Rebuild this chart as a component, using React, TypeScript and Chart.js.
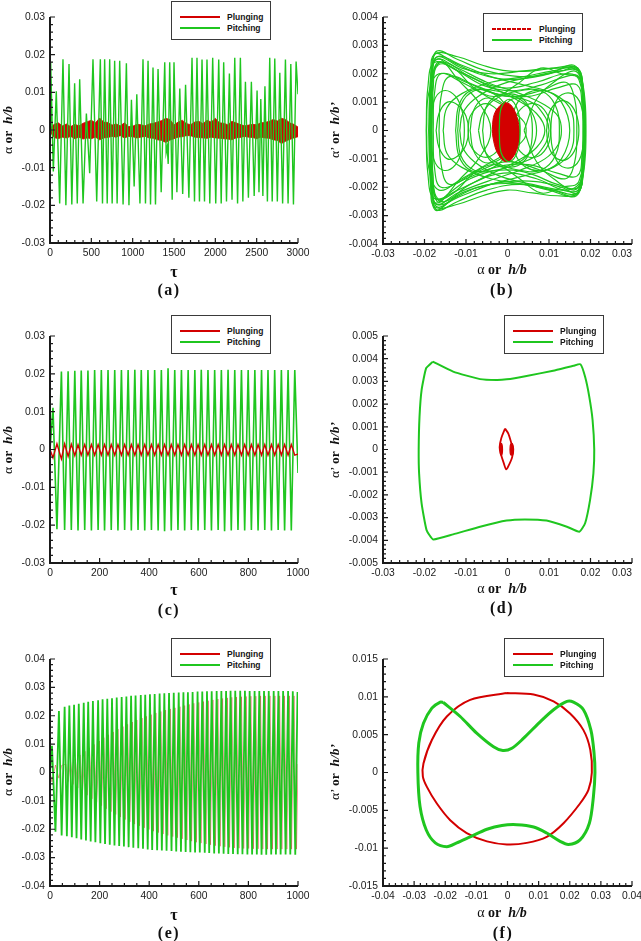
import React, { useEffect, useRef } from "react";
import { Chart, registerables } from "chart.js";

Chart.register(...registerables);

const RED = "#d30000";
const RED_FAINT = "rgba(211, 0, 0, 0.5)";
const GREEN = "#1fc61f";
const TICK_FONT = '"Liberation Sans", Arial, sans-serif';
const SERIF = '"Liberation Serif", "Times New Roman", serif';

// ---------------- tick values / labels ----------------
const tauTicks3000 = [0, 500, 1000, 1500, 2000, 2500, 3000];
const tauLabels3000 = ["0", "500", "1000", "1500", "2000", "2500", "3000"];
const tauTicks1000 = [0, 200, 400, 600, 800, 1000];
const tauLabels1000 = ["0", "200", "400", "600", "800", "1000"];
const amp3Ticks = [-0.03, -0.02, -0.01, 0, 0.01, 0.02, 0.03];
const amp3Labels = ["-0.03", "-0.02", "-0.01", "0", "0.01", "0.02", "0.03"];
// last label of the phase-plane x axes sits left of its tick in the original
const phase3Labels = ["-0.03", "-0.02", "-0.01", "0", "0.01", "0.02", "0.03       "];
const amp4Ticks = [-0.04, -0.03, -0.02, -0.01, 0, 0.01, 0.02, 0.03, 0.04];
const amp4Labels = ["-0.04", "-0.03", "-0.02", "-0.01", "0", "0.01", "0.02", "0.03", "0.04"];
const rate4Ticks = [-0.004, -0.003, -0.002, -0.001, 0, 0.001, 0.002, 0.003, 0.004];
const rate4Labels = ["-0.004", "-0.003", "-0.002", "-0.001", "0", "0.001", "0.002", "0.003", "0.004"];
const rate5Ticks = [-0.005, -0.004, -0.003, -0.002, -0.001, 0, 0.001, 0.002, 0.003, 0.004, 0.005];
const rate5Labels = ["-0.005", "-0.004", "-0.003", "-0.002", "-0.001", "0", "0.001", "0.002", "0.003", "0.004", "0.005"];
const rate15Ticks = [-0.015, -0.01, -0.005, 0, 0.005, 0.01, 0.015];
const rate15Labels = ["-0.015", "-0.01", "-0.005", "0", "0.005", "0.01", "0.015"];

// ---------------- (a) time history, tau 0..3000 ----------------
const aPitching = [
  [0, 0], [8, 0.018], [40, -0.011], [76, 0.0103], [117, -0.0195], [157, 0.0188], [192, -0.02], [230, 0.0175],
  [264, -0.0198], [298, 0.0124], [330, -0.0195], [359, 0.0135], [400, -0.0195], [440, 0.0044], [480, -0.0115],
  [520, 0.0188], [565, -0.019], [609, 0.0188], [635, -0.0195], [661, 0.0188], [692, -0.0195], [722, 0.0188],
  [752, -0.0195], [782, 0.0184], [812, -0.0195], [843, 0.0184], [884, -0.0198], [924, 0.0177], [955, -0.02],
  [985, 0.008], [1018, -0.015], [1050, 0.0095], [1088, -0.0195], [1125, 0.0188], [1155, -0.0195], [1186, 0.0184],
  [1216, -0.0198], [1246, 0.0166], [1276, -0.0198], [1307, 0.0162], [1345, -0.0165], [1388, 0.018],
  [1405, -0.006], [1418, -0.0045], [1430, -0.009], [1448, 0.018], [1478, -0.0185], [1500, 0.018],
  [1535, -0.0165], [1570, 0.011], [1605, -0.017], [1640, 0.012], [1680, -0.018], [1718, 0.0192],
  [1748, -0.019], [1778, 0.0192], [1808, -0.019], [1839, 0.0187], [1869, -0.019], [1899, 0.0187],
  [1933, -0.0195], [1968, 0.0192], [2005, -0.0195], [2041, 0.0187], [2071, -0.0195], [2101, 0.018],
  [2135, -0.019], [2170, 0.015], [2202, -0.0185], [2235, 0.0192], [2269, -0.0195], [2303, 0.0192],
  [2333, -0.019], [2364, 0.0128], [2400, -0.018], [2436, 0.0128], [2470, -0.0175], [2505, 0.0105],
  [2528, -0.0165], [2550, 0.0082], [2575, -0.0175], [2600, 0.0116], [2630, -0.019], [2658, 0.0192],
  [2688, -0.019], [2719, 0.019], [2750, -0.019], [2780, 0.0152], [2814, -0.0195], [2848, 0.0187],
  [2880, -0.0195], [2913, 0.0175], [2945, -0.0198], [2977, 0.0182], [3000, 0.0095],
];
const aPlungingUpper = [
  [0, 0.0005], [50, 0.0015], [100, 0.0019], [150, 0.0011], [200, 0.0016], [250, 0.0009], [300, 0.0015],
  [350, 0.0011], [400, 0.0018], [450, 0.0022], [500, 0.0026], [550, 0.0019], [600, 0.0032], [650, 0.0021],
  [700, 0.002], [750, 0.0013], [800, 0.0016], [850, 0.0011], [900, 0.0019], [950, 0.0009], [1000, 0.001],
  [1050, 0.0015], [1100, 0.0014], [1150, 0.0011], [1200, 0.0016], [1250, 0.0018], [1300, 0.0021],
  [1350, 0.0025], [1400, 0.0031], [1450, 0.0028], [1500, 0.0014], [1550, 0.0021], [1600, 0.0026],
  [1650, 0.0017], [1700, 0.0014], [1750, 0.0021], [1800, 0.0023], [1850, 0.0017], [1900, 0.0026],
  [1950, 0.0021], [2000, 0.0031], [2050, 0.0019], [2100, 0.0018], [2150, 0.0014], [2200, 0.0023],
  [2250, 0.0019], [2300, 0.0015], [2350, 0.0011], [2400, 0.0013], [2450, 0.0015], [2500, 0.0014],
  [2550, 0.0019], [2600, 0.002], [2650, 0.0023], [2700, 0.0028], [2750, 0.0024], [2800, 0.0031],
  [2850, 0.0028], [2900, 0.0019], [2950, 0.0015], [3000, 0.0008],
];
const aPlungingLower = [
  [0, -0.0005], [50, -0.002], [100, -0.0023], [150, -0.0019], [200, -0.0021], [250, -0.0017], [300, -0.0023],
  [350, -0.0019], [400, -0.0024], [450, -0.0021], [500, -0.0023], [550, -0.0019], [600, -0.0026], [650, -0.0021],
  [700, -0.002], [750, -0.0017], [800, -0.0019], [850, -0.0015], [900, -0.0021], [950, -0.0017], [1000, -0.0018],
  [1050, -0.0021], [1100, -0.0019], [1150, -0.0017], [1200, -0.0021], [1250, -0.0022], [1300, -0.0026],
  [1350, -0.0028], [1400, -0.0033], [1450, -0.0027], [1500, -0.0023], [1550, -0.0019], [1600, -0.0018],
  [1650, -0.0015], [1700, -0.0015], [1750, -0.0019], [1800, -0.002], [1850, -0.0021], [1900, -0.0022],
  [1950, -0.0019], [2000, -0.0021], [2050, -0.0022], [2100, -0.0023], [2150, -0.0024], [2200, -0.0026],
  [2250, -0.0021], [2300, -0.002], [2350, -0.0017], [2400, -0.0019], [2450, -0.002], [2500, -0.0023],
  [2550, -0.0019], [2600, -0.0021], [2650, -0.0022], [2700, -0.0026], [2750, -0.0028], [2800, -0.0036],
  [2850, -0.003], [2900, -0.0025], [2950, -0.0021], [3000, -0.0018],
];

// ---------------- (b) phase plane ----------------
const bPitchingLoops = [
  [[-0.0186, 0], [-0.0183, 0.0017], [-0.0174, 0.0027], [-0.013, 0.0024], [-0.007, 0.002], [0, 0.0018], [0.007, 0.0019], [0.013, 0.0021], [0.017, 0.0022], [0.0183, 0.0012], [0.0186, 0], [0.0183, -0.0012], [0.017, -0.0022], [0.013, -0.002], [0.007, -0.0018], [0, -0.0018], [-0.007, -0.002], [-0.013, -0.0024], [-0.0174, -0.0028], [-0.0183, -0.0017], [-0.0186, 0]],
  [[-0.0182, 0], [-0.0179, 0.0015], [-0.0168, 0.0024], [-0.012, 0.0021], [-0.006, 0.0016], [0.001, 0.0014], [0.008, 0.0016], [0.014, 0.0019], [0.0172, 0.0019], [0.0181, 0.001], [0.0183, 0], [0.018, -0.001], [0.017, -0.002], [0.012, -0.0019], [0.005, -0.0015], [-0.002, -0.0014], [-0.009, -0.0017], [-0.014, -0.0022], [-0.017, -0.0025], [-0.018, -0.0015], [-0.0182, 0]],
  [[-0.0188, 0], [-0.0185, 0.0016], [-0.0172, 0.0025], [-0.012, 0.0022], [-0.005, 0.0017], [0.003, 0.0013], [0.009, 0.0009], [0.0122, 0.0005], [0.013, 0], [0.0122, -0.0005], [0.009, -0.001], [0.003, -0.0014], [-0.005, -0.0018], [-0.012, -0.0022], [-0.0172, -0.0026], [-0.0185, -0.0016], [-0.0188, 0]],
  [[-0.0195, 0], [-0.019, 0.0013], [-0.0165, 0.002], [-0.011, 0.0017], [-0.005, 0.0012], [0.001, 0.0007], [0.004, 0.0003], [0.0045, 0], [0.004, -0.0003], [0.001, -0.0007], [-0.005, -0.0012], [-0.011, -0.0017], [-0.0165, -0.0021], [-0.019, -0.0013], [-0.0195, 0]],
  [[-0.0115, 0], [-0.0108, 0.0006], [-0.008, 0.0011], [-0.002, 0.0016], [0.006, 0.0019], [0.013, 0.0021], [0.017, 0.0021], [0.0184, 0.0011], [0.0188, 0], [0.0184, -0.0011], [0.017, -0.0021], [0.013, -0.0021], [0.006, -0.0019], [-0.002, -0.0016], [-0.008, -0.0011], [-0.0108, -0.0006], [-0.0115, 0]],
  [[-0.0196, 0], [-0.0192, 0.0015], [-0.0176, 0.0024], [-0.012, 0.0021], [-0.005, 0.0016], [0.002, 0.0011], [0.007, 0.0006], [0.009, 0], [0.007, -0.0006], [0.002, -0.0011], [-0.005, -0.0016], [-0.012, -0.0021], [-0.0176, -0.0024], [-0.0192, -0.0015], [-0.0196, 0]],
  [[-0.0172, 0], [-0.0165, 0.0006], [-0.0145, 0.001], [-0.012, 0.0009], [-0.01, 0.0005], [-0.0094, 0], [-0.01, -0.0005], [-0.012, -0.0009], [-0.0145, -0.001], [-0.0165, -0.0006], [-0.0172, 0]],
  [[0.0094, 0], [0.01, 0.0006], [0.012, 0.001], [0.0145, 0.001], [0.0165, 0.0006], [0.0172, 0], [0.0165, -0.0006], [0.0145, -0.001], [0.012, -0.001], [0.01, -0.0006], [0.0094, 0]],
  [[-0.006, 0], [-0.0052, 0.0008], [-0.003, 0.0012], [0, 0.0013], [0.003, 0.0012], [0.0052, 0.0008], [0.006, 0], [0.0052, -0.0008], [0.003, -0.0012], [0, -0.0013], [-0.003, -0.0012], [-0.0052, -0.0008], [-0.006, 0]],
  [[-0.0165, 0], [-0.016, 0.0012], [-0.014, 0.0019], [-0.008, 0.0016], [0, 0.0012], [0.008, 0.0014], [0.014, 0.0017], [0.0162, 0.0011], [0.0167, 0], [0.0162, -0.0011], [0.014, -0.0017], [0.008, -0.0014], [0, -0.0011], [-0.008, -0.0015], [-0.014, -0.0019], [-0.016, -0.0012], [-0.0165, 0]],
  [[-0.0185, 0], [-0.0181, 0.0019], [-0.0168, 0.0026], [-0.011, 0.0022], [-0.004, 0.002], [0.004, 0.0021], [0.011, 0.0022], [0.0165, 0.0022], [0.0182, 0.0013], [0.0186, 0], [0.0182, -0.0013], [0.0166, -0.0023], [0.011, -0.0021], [0.004, -0.0019], [-0.004, -0.0019], [-0.011, -0.0022], [-0.0168, -0.0027], [-0.0181, -0.0019], [-0.0185, 0]],
  [[-0.009, 0], [-0.0082, 0.0007], [-0.006, 0.0011], [-0.003, 0.0011], [0, 0.0008], [0.0025, 0.0004], [0.003, 0], [0.0025, -0.0004], [0, -0.0008], [-0.003, -0.0011], [-0.006, -0.0011], [-0.0082, -0.0007], [-0.009, 0]],
  [[-0.002, 0], [-0.0012, 0.0007], [0.001, 0.0011], [0.004, 0.0011], [0.0075, 0.0008], [0.01, 0], [0.0075, -0.0008], [0.004, -0.0011], [0.001, -0.0011], [-0.0012, -0.0007], [-0.002, 0]],
  [[-0.0125, 0], [-0.0117, 0.0009], [-0.009, 0.0014], [-0.005, 0.0014], [-0.001, 0.001], [0.002, 0], [-0.001, -0.001], [-0.005, -0.0014], [-0.009, -0.0014], [-0.0117, -0.0009], [-0.0125, 0]],
  [[0.001, 0], [0.0018, 0.0008], [0.0045, 0.0013], [0.009, 0.0014], [0.013, 0.001], [0.015, 0], [0.013, -0.001], [0.009, -0.0014], [0.0045, -0.0013], [0.0018, -0.0008], [0.001, 0]],
  [[-0.0187, 0], [-0.0184, 0.0012], [-0.0176, 0.0022], [-0.015, 0.0024], [-0.009, 0.0019], [-0.001, 0.0015], [0.007, 0.0017], [0.014, 0.002], [0.0175, 0.0018], [0.0185, 0.0008], [0.0186, 0], [0.0185, -0.0008], [0.0176, -0.0018], [0.014, -0.0021], [0.007, -0.0017], [-0.001, -0.0015], [-0.009, -0.0019], [-0.015, -0.0025], [-0.0176, -0.0023], [-0.0184, -0.0012], [-0.0187, 0]],
  [[-0.0184, 0], [-0.0181, 0.0021], [-0.017, 0.0028], [-0.012, 0.0025], [-0.005, 0.0021], [0.003, 0.0019], [0.01, 0.002], [0.016, 0.0023], [0.0178, 0.0016], [0.0183, 0], [0.0178, -0.0016], [0.016, -0.0023], [0.01, -0.0021], [0.003, -0.0019], [-0.005, -0.0021], [-0.012, -0.0025], [-0.017, -0.0028], [-0.0181, -0.0021], [-0.0184, 0]],
  [[-0.0179, 0], [-0.0176, 0.0013], [-0.016, 0.002], [-0.01, 0.0017], [-0.003, 0.0013], [0.005, 0.0012], [0.012, 0.0015], [0.0168, 0.0016], [0.018, 0.0008], [0.0182, 0], [0.018, -0.0008], [0.0168, -0.0016], [0.012, -0.0015], [0.005, -0.0012], [-0.003, -0.0013], [-0.01, -0.0017], [-0.016, -0.002], [-0.0176, -0.0013], [-0.0179, 0]],
  [[-0.0186, 0], [-0.0183, 0.0018], [-0.017, 0.0026], [-0.011, 0.0023], [-0.004, 0.0019], [0.004, 0.0016], [0.011, 0.0013], [0.015, 0.0008], [0.016, 0], [0.015, -0.0008], [0.011, -0.0013], [0.004, -0.0016], [-0.004, -0.0019], [-0.011, -0.0023], [-0.017, -0.0026], [-0.0183, -0.0018], [-0.0186, 0]],
  [[-0.0155, 0], [-0.0146, 0.0008], [-0.011, 0.0013], [-0.004, 0.0017], [0.004, 0.0019], [0.011, 0.0021], [0.0168, 0.0022], [0.0183, 0.0013], [0.0186, 0], [0.0183, -0.0013], [0.0168, -0.0022], [0.011, -0.0021], [0.004, -0.0019], [-0.004, -0.0017], [-0.011, -0.0013], [-0.0146, -0.0008], [-0.0155, 0]],
  [[-0.0183, 0], [-0.018, 0.0016], [-0.0168, 0.0023], [-0.013, 0.0022], [-0.008, 0.0015], [-0.003, 0.0012], [0.002, 0.0016], [0.008, 0.0022], [0.013, 0.002], [0.0172, 0.0018], [0.0184, 0], [0.0172, -0.0018], [0.013, -0.002], [0.008, -0.0022], [0.002, -0.0016], [-0.003, -0.0012], [-0.008, -0.0015], [-0.013, -0.0022], [-0.0168, -0.0024], [-0.018, -0.0016], [-0.0183, 0]],
  [[-0.0188, 0], [-0.0185, 0.002], [-0.0175, 0.0027], [-0.012, 0.0026], [-0.006, 0.0023], [0, 0.0021], [0.006, 0.0021], [0.012, 0.0022], [0.017, 0.0021], [0.0183, 0.0012], [0.0185, 0], [0.0183, -0.0012], [0.017, -0.0022], [0.012, -0.0023], [0.006, -0.0022], [0, -0.0021], [-0.006, -0.0023], [-0.012, -0.0026], [-0.0175, -0.0027], [-0.0185, -0.002], [-0.0188, 0]],
  [[-0.0185, 0], [-0.0178, 0.001], [-0.0155, 0.0014], [-0.0125, 0.0012], [-0.0108, 0.0006], [-0.0104, 0], [-0.0108, -0.0006], [-0.0125, -0.0012], [-0.0155, -0.0014], [-0.0178, -0.001], [-0.0185, 0]],
  [[0.0104, 0], [0.0108, 0.0006], [0.0125, 0.0012], [0.0155, 0.0013], [0.0177, 0.0009], [0.0184, 0], [0.0177, -0.0009], [0.0155, -0.0013], [0.0125, -0.0012], [0.0108, -0.0006], [0.0104, 0]],
  [[-0.012, 0], [-0.0112, 0.0009], [-0.008, 0.0014], [-0.003, 0.0014], [0.003, 0.0011], [0.006, 0.0006], [0.007, 0], [0.006, -0.0006], [0.003, -0.0011], [-0.003, -0.0014], [-0.008, -0.0014], [-0.0112, -0.0009], [-0.012, 0]],
  [[-0.007, 0], [-0.006, 0.0006], [-0.003, 0.0011], [0.003, 0.0014], [0.008, 0.0014], [0.0115, 0.0009], [0.0125, 0], [0.0115, -0.0009], [0.008, -0.0014], [0.003, -0.0014], [-0.003, -0.0011], [-0.006, -0.0006], [-0.007, 0]],
  [[-0.0095, 0], [-0.009, 0.0005], [-0.0065, 0.0009], [-0.004, 0.0009], [-0.0015, 0.0005], [-0.001, 0], [-0.0015, -0.0005], [-0.004, -0.0009], [-0.0065, -0.0009], [-0.009, -0.0005], [-0.0095, 0]],
  [[0.0015, 0], [0.002, 0.0005], [0.0045, 0.0009], [0.0075, 0.0009], [0.0098, 0.0005], [0.0104, 0], [0.0098, -0.0005], [0.0075, -0.0009], [0.0045, -0.0009], [0.002, -0.0005], [0.0015, 0]],
  [[-0.019, 0], [-0.0187, 0.0014], [-0.0178, 0.0024], [-0.016, 0.0025], [-0.012, 0.0018], [-0.007, 0.001], [-0.004, 0], [-0.007, -0.001], [-0.012, -0.0018], [-0.016, -0.0025], [-0.0178, -0.0025], [-0.0187, -0.0014], [-0.019, 0]],
  [[0.004, 0], [0.007, 0.0011], [0.012, 0.0018], [0.016, 0.0021], [0.0178, 0.0018], [0.0187, 0.001], [0.0189, 0], [0.0187, -0.001], [0.0178, -0.0018], [0.016, -0.0021], [0.012, -0.0018], [0.007, -0.0011], [0.004, 0]],
];
const bPlungingBlob = [
  [-0.0008, 0.001], [0.0008, 0.0009], [0.0022, 0.0005], [0.0029, -0.0001], [0.0024, -0.0006], [0.001, -0.001],
  [-0.0004, -0.0011], [-0.002, -0.0009], [-0.0033, -0.0004], [-0.0036, 0.0002], [-0.0028, 0.0007], [-0.0008, 0.001],
];
const bPitchingCentre = [
  [-0.002, 0], [-0.0015, 0.0008], [0.0005, 0.0011], [0.0025, 0.0007], [0.003, 0], [0.0025, -0.0007],
  [0.0005, -0.0011], [-0.0015, -0.0008], [-0.002, 0],
];

// ---------------- (c) time history, tau 0..1000 ----------------
const cPitching = [
  [0, 0], [12, 0.011], [28, -0.0211], [46, 0.0206], [59, -0.0213], [73, 0.0207], [86, -0.0213], [100, 0.0208],
  [113, -0.0214], [126, 0.0209], [140, -0.0213], [153, 0.0209], [167, -0.0214], [180, 0.021], [194, -0.0213],
  [207, 0.021], [220, -0.0214], [234, 0.021], [247, -0.0213], [261, 0.021], [274, -0.0214], [288, 0.021],
  [301, -0.0213], [315, 0.021], [328, -0.0214], [342, 0.0211], [355, -0.0213], [368, 0.021], [382, -0.0214],
  [395, 0.021], [409, -0.0213], [422, 0.021], [436, -0.0214], [449, 0.021], [462, -0.0216], [476, 0.0215],
  [489, -0.0214], [503, 0.021], [516, -0.0213], [530, 0.021], [543, -0.0214], [557, 0.021], [570, -0.0213],
  [584, 0.021], [597, -0.0214], [610, 0.0211], [624, -0.0213], [637, 0.021], [651, -0.0214], [664, 0.021],
  [678, -0.0213], [691, 0.021], [704, -0.0216], [718, 0.0211], [731, -0.0214], [745, 0.021], [758, -0.0213],
  [772, 0.021], [785, -0.0214], [799, 0.021], [812, -0.0213], [826, 0.021], [839, -0.0214], [853, 0.021],
  [866, -0.0213], [879, 0.021], [893, -0.0214], [906, 0.021], [920, -0.0213], [933, 0.021], [946, -0.0214],
  [960, 0.021], [973, -0.0214], [987, 0.021], [1000, -0.0062],
];
const cPlunging = [
  [0, 0], [12, -0.0022], [28, 0.0015], [46, -0.0025], [59, 0.0015], [73, -0.0018], [86, 0.0014], [100, -0.0016],
  [113, 0.0013], [126, -0.0015], [140, 0.0013], [153, -0.0015], [167, 0.0013], [180, -0.0015], [194, 0.0013],
  [207, -0.0015], [220, 0.0013], [234, -0.0015], [247, 0.0013], [261, -0.0015], [274, 0.0013], [288, -0.0015],
  [301, 0.0013], [315, -0.0015], [328, 0.0013], [342, -0.0015], [355, 0.0013], [368, -0.0015], [382, 0.0013],
  [395, -0.0015], [409, 0.0013], [422, -0.0015], [436, 0.0013], [449, -0.0015], [462, 0.0013], [476, -0.0015],
  [489, 0.0013], [503, -0.0015], [516, 0.0013], [530, -0.0015], [543, 0.0013], [557, -0.0015], [570, 0.0013],
  [584, -0.0015], [597, 0.0013], [610, -0.0015], [624, 0.0013], [637, -0.0015], [651, 0.0013], [664, -0.0015],
  [678, 0.0013], [691, -0.0015], [704, 0.0013], [718, -0.0015], [731, 0.0013], [745, -0.0015], [758, 0.0013],
  [772, -0.0015], [785, 0.0013], [799, -0.0015], [812, 0.0013], [826, -0.0015], [839, 0.0013], [853, -0.0015],
  [866, 0.0013], [879, -0.0015], [893, 0.0013], [906, -0.0015], [920, 0.0013], [933, -0.0015], [946, 0.0013],
  [960, -0.0015], [973, 0.0013], [987, -0.0015], [1000, -0.0012],
];

// ---------------- (d) phase plane ----------------
const dPitching = [
  [-0.018, 0.00387], [-0.0131, 0.00343], [-0.0066, 0.0031], [-0.0026, 0.00306], [-0.0002, 0.00309], [0.0046, 0.00324],
  [0.011, 0.00347], [0.0159, 0.00369], [0.0176, 0.00375], [0.0187, 0.0032], [0.0197, 0.00233], [0.0205, 0.0013],
  [0.0209, 0], [0.0207, -0.00105], [0.0199, -0.00222], [0.0187, -0.00325], [0.0173, -0.00362], [0.0143, -0.0034],
  [0.0094, -0.00313], [0.0042, -0.00308], [-0.0002, -0.00313], [-0.0066, -0.0034], [-0.0131, -0.00374],
  [-0.0179, -0.00396], [-0.0195, -0.00355], [-0.0207, -0.00237], [-0.0213, -0.00105], [-0.0214, 0],
  [-0.0212, 0.00145], [-0.0207, 0.00262], [-0.0196, 0.00358], [-0.018, 0.00387],
];
const dPlunging = [
  [-0.0006, 0.00092], [0.0002, 0.0007], [0.0009, 0.0003], [0.0014, 0.00002], [0.0011, -0.00035], [0.0003, -0.0007],
  [-0.0003, -0.00088], [-0.0009, -0.0006], [-0.0016, -0.0002], [-0.0019, 0.0001], [-0.0015, 0.0005], [-0.0006, 0.00092],
];
const dPlungingLeftOval = [
  [-0.0018, 0], [-0.0017, 0.0002], [-0.0015, 0.00027], [-0.0013, 0.0002], [-0.0012, 0], [-0.0013, -0.0002],
  [-0.0015, -0.00025], [-0.0017, -0.0002], [-0.0018, 0],
];
const dPlungingRightOval = [
  [0.0006, 0], [0.0007, 0.0002], [0.001, 0.00027], [0.0013, 0.0002], [0.0014, 0], [0.0013, -0.0002],
  [0.001, -0.00025], [0.0007, -0.0002], [0.0006, 0],
];

// ---------------- (e) time history, tau 0..1000 ----------------
const ePitching = [
  [0, 0], [8, 0.0094], [22, -0.0209], [36, 0.0217], [47, -0.0222], [59, 0.0232], [68, -0.0225], [78, 0.0236],
  [88, -0.0228], [97, 0.0239], [107, -0.0232], [116, 0.0242], [126, -0.0236], [136, 0.0246], [145, -0.024],
  [154, 0.0249], [164, -0.0243], [173, 0.0252], [183, -0.0246], [194, 0.0255], [203, -0.0249], [212, 0.0258],
  [222, -0.0252], [231, 0.026], [241, -0.0255], [250, 0.0262], [260, -0.0257], [269, 0.0264], [279, -0.0259],
  [289, 0.0266], [298, -0.0261], [308, 0.0268], [317, -0.0263], [327, 0.027], [336, -0.0265], [345, 0.0271],
  [356, -0.0267], [366, 0.0273], [375, -0.0269], [384, 0.0274], [394, -0.0271], [403, 0.0276], [412, -0.0273],
  [422, 0.0277], [432, -0.0274], [442, 0.0278], [451, -0.0275], [461, 0.0279], [470, -0.0276], [480, 0.028],
  [490, -0.0277], [499, 0.0281], [509, -0.0278], [519, 0.0282], [528, -0.0279], [538, 0.0283], [547, -0.028],
  [556, 0.0283], [566, -0.0281], [575, 0.0284], [585, -0.0282], [595, 0.0285], [604, -0.0282], [614, 0.0285],
  [624, -0.0283], [633, 0.0286], [642, -0.0284], [652, 0.0286], [662, -0.0285], [672, 0.0287], [681, -0.0285],
  [691, 0.0287], [700, -0.0286], [710, 0.0287], [719, -0.0287], [728, 0.0288], [738, -0.0287], [747, 0.0288],
  [757, -0.0288], [767, 0.0288], [776, -0.0288], [786, 0.0288], [796, -0.0289], [805, 0.0287], [815, -0.0289],
  [825, 0.0287], [834, -0.0289], [844, 0.0287], [853, -0.029], [863, 0.0287], [872, -0.029], [882, 0.0287],
  [892, -0.0289], [902, 0.0287], [911, -0.0289], [921, 0.0287], [930, -0.0289], [940, 0.0287], [950, -0.0289],
  [960, 0.0287], [969, -0.0289], [979, 0.0286], [989, -0.029], [998, 0.0284], [1000, 0.022],
];
// plunging lags the pitching motion by a few time units, so it shows faintly between the green strokes
const ePlunging = [
  [0, 0], [8, -0.0033], [22, 0.0026], [36, -0.002], [47, 0.0025], [64, 0.003], [73, -0.0032], [83, 0.0038],
  [93, -0.0042], [102, 0.0048], [112, -0.0055], [121, 0.0062], [131, -0.0068], [141, 0.0075], [150, -0.008],
  [159, 0.0087], [169, -0.0093], [178, 0.0099], [188, -0.0105], [199, 0.0111], [208, -0.0117], [217, 0.0123],
  [227, -0.0128], [236, 0.0133], [246, -0.0138], [255, 0.0143], [265, -0.0148], [274, 0.0153], [284, -0.0157],
  [294, 0.0162], [303, -0.0166], [313, 0.017], [322, -0.0174], [332, 0.0178], [341, -0.0182], [350, 0.0185],
  [361, -0.0188], [371, 0.0192], [380, -0.0195], [389, 0.0198], [399, -0.0201], [408, 0.0204], [417, -0.0207],
  [427, 0.021], [437, -0.0212], [447, 0.0215], [456, -0.0217], [466, 0.022], [475, -0.0222], [485, 0.0224],
  [495, -0.0226], [504, 0.0228], [514, -0.023], [524, 0.0232], [533, -0.0234], [543, 0.0236], [552, -0.0238],
  [561, 0.024], [571, -0.0242], [580, 0.0244], [590, -0.0246], [600, 0.0247], [609, -0.0249], [619, 0.025],
  [629, -0.0252], [638, 0.0253], [647, -0.0255], [657, 0.0256], [667, -0.0258], [677, 0.0259], [686, -0.026],
  [696, 0.0261], [705, -0.0262], [715, 0.0263], [724, -0.0264], [733, 0.0265], [743, -0.0266], [752, 0.0266],
  [762, -0.0267], [772, 0.0267], [781, -0.0268], [791, 0.0268], [801, -0.0268], [810, 0.0269], [820, -0.0269],
  [830, 0.0269], [839, -0.0269], [849, 0.027], [858, -0.027], [868, 0.027], [877, -0.027], [887, 0.027],
  [897, -0.027], [907, 0.027], [916, -0.027], [926, 0.027], [935, -0.027], [945, 0.027], [955, -0.027],
  [965, 0.027], [974, -0.027], [984, 0.027], [994, -0.027], [1000, 0.003],
];

// ---------------- (f) phase plane ----------------
const fPitching = [
  [-0.0206, 0.00925], [-0.0152, 0.0074], [-0.0099, 0.0052], [-0.0045, 0.0034], [-0.0015, 0.0029], [0.0014, 0.0032],
  [0.0051, 0.0045], [0.0105, 0.0067], [0.0148, 0.0083], [0.0191, 0.0094], [0.0212, 0.0093], [0.0244, 0.0083],
  [0.0268, 0.0056], [0.0278, 0.0026], [0.0281, 0], [0.0276, -0.0032], [0.0263, -0.0067], [0.0233, -0.0089],
  [0.0196, -0.0095], [0.0169, -0.0091], [0.0126, -0.008], [0.0084, -0.0072], [0.003, -0.0069], [-0.0018, -0.007],
  [-0.0066, -0.0075], [-0.012, -0.0085], [-0.0163, -0.0093], [-0.0195, -0.0098], [-0.0232, -0.0093],
  [-0.0261, -0.0076], [-0.0281, -0.0045], [-0.0288, 0], [-0.0285, 0.0039], [-0.027, 0.0065], [-0.0243, 0.0085],
  [-0.0216, 0.0093], [-0.0206, 0.00925],
];
const fPlunging = [
  [-0.0002, 0.0105], [-0.012, 0.0096], [-0.0195, 0.0074], [-0.0243, 0.0043], [-0.027, 0.0012], [-0.0272, -0.0005],
  [-0.0259, -0.0019], [-0.0227, -0.0041], [-0.0184, -0.0063], [-0.0131, -0.008], [-0.0066, -0.0091],
  [-0.0002, -0.0095], [0.0062, -0.0093], [0.0126, -0.0085], [0.018, -0.0067], [0.0233, -0.0041], [0.026, -0.0023],
  [0.0271, 0], [0.0266, 0.003], [0.0244, 0.0056], [0.0201, 0.0078], [0.0148, 0.0094], [0.0084, 0.0103],
  [-0.0002, 0.0105],
];

// ---------------- helpers ----------------
const toPts = (arr: number[][]) => arr.map(([x, y]) => ({ x, y }));

const ln = (data: number[][], color: string, width: number, extra: any = {}) => ({
  data: toPts(data),
  borderColor: color,
  backgroundColor: color,
  borderWidth: width,
  ...extra,
});

const axesPlugin = {
  id: "inAxes",
  afterDatasetsDraw(chart: any, _args: any, opts: any) {
    const { ctx, chartArea: a, scales } = chart;
    const xs = scales.x;
    const ys = scales.y;
    ctx.save();
    ctx.strokeStyle = "#1a1a1a";
    ctx.lineWidth = 1.2;
    const drawTicks = (scale: any, minor: number, horiz: boolean) => {
      const vals = scale.ticks.map((t: any) => t.value);
      ctx.beginPath();
      vals.forEach((v: number, i: number) => {
        const p = scale.getPixelForValue(v);
        if (horiz) {
          ctx.moveTo(p, a.bottom);
          ctx.lineTo(p, a.bottom - 5);
        } else {
          ctx.moveTo(a.left, p);
          ctx.lineTo(a.left + 5, p);
        }
        if (i < vals.length - 1) {
          for (let k = 1; k < minor; k++) {
            const q = scale.getPixelForValue(v + ((vals[i + 1] - v) * k) / minor);
            if (horiz) {
              ctx.moveTo(q, a.bottom);
              ctx.lineTo(q, a.bottom - 3);
            } else {
              ctx.moveTo(a.left, q);
              ctx.lineTo(a.left + 3, q);
            }
          }
        }
      });
      ctx.stroke();
    };
    drawTicks(xs, opts.xMinor, true);
    drawTicks(ys, opts.yMinor, false);
    ctx.lineWidth = 2;
    ctx.beginPath();
    ctx.moveTo(a.left, a.top);
    ctx.lineTo(a.left, a.bottom);
    ctx.lineTo(a.right, a.bottom);
    ctx.stroke();
    ctx.restore();
  },
};

function axisOpts(ticks: number[], labels: string[], axis: "x" | "y", size: number) {
  return {
    type: "linear",
    min: ticks[0],
    max: ticks[ticks.length - 1],
    position: axis === "x" ? "bottom" : "left",
    grid: { display: false, drawTicks: false },
    border: { display: false },
    ticks: {
      padding: axis === "x" ? 4 : 5,
      color: "#1a1a1a",
      font: { family: TICK_FONT, size: 10.3 },
      autoSkip: false,
      maxRotation: 0,
      minRotation: 0,
      callback: (_v: any, i: number) => labels[i],
    },
    afterBuildTicks: (sc: any) => {
      sc.ticks = ticks.map((v) => ({ value: v }));
    },
    afterFit: (sc: any) => {
      if (axis === "x") {
        sc.height = size;
        sc.paddingLeft = 0;
        sc.paddingRight = 0;
      } else {
        sc.width = size;
        sc.paddingTop = 0;
        sc.paddingBottom = 0;
      }
    },
  };
}

type Spec = {
  id: string;
  cx: number; cy: number; cw: number; ch: number;
  area: { l: number; t: number; r: number; b: number };
  xTicks: number[]; xLabels: string[]; yTicks: number[]; yLabels: string[];
  xMinor: number; yMinor: number;
  datasets: any[];
};

const panels: Spec[] = [
  {
    id: "a", cx: 0, cy: 0, cw: 320, ch: 300, area: { l: 50, t: 17, r: 298, b: 243 },
    xTicks: tauTicks3000, xLabels: tauLabels3000, yTicks: amp3Ticks, yLabels: amp3Labels, xMinor: 5, yMinor: 5,
    datasets: [
      ln(aPlungingUpper, RED, 0.8, { fill: "+1" }),
      ln(aPlungingLower, RED, 0.8),
      ln(aPitching, GREEN, 1.4),
    ],
  },
  {
    id: "b", cx: 320, cy: 0, cw: 321, ch: 300, area: { l: 383, t: 17, r: 632, b: 244 },
    xTicks: amp3Ticks, xLabels: phase3Labels, yTicks: rate4Ticks, yLabels: rate4Labels, xMinor: 5, yMinor: 5,
    datasets: [
      ...bPitchingLoops.map((lp) => ln(lp, GREEN, 1.2, { tension: 0.4 })),
      ln(bPlungingBlob, RED, 1, { tension: 0.4, fill: "shape" }),
      ln(bPitchingCentre, GREEN, 1.2, { tension: 0.4 }),
    ],
  },
  {
    id: "c", cx: 0, cy: 300, cw: 320, ch: 310, area: { l: 50, t: 336, r: 298, b: 563 },
    xTicks: tauTicks1000, xLabels: tauLabels1000, yTicks: amp3Ticks, yLabels: amp3Labels, xMinor: 4, yMinor: 5,
    datasets: [ln(cPitching, GREEN, 1.6), ln(cPlunging, RED, 1.4)],
  },
  {
    id: "d", cx: 320, cy: 300, cw: 321, ch: 310, area: { l: 383, t: 336, r: 632, b: 563 },
    xTicks: amp3Ticks, xLabels: phase3Labels, yTicks: rate5Ticks, yLabels: rate5Labels, xMinor: 5, yMinor: 5,
    datasets: [
      ln(dPitching, GREEN, 2, { tension: 0.15 }),
      ln(dPlunging, RED, 1.8, { tension: 0.3 }),
      ln(dPlungingLeftOval, RED, 1.2, { tension: 0.3, fill: "shape" }),
      ln(dPlungingRightOval, RED, 1.2, { tension: 0.3, fill: "shape" }),
    ],
  },
  {
    id: "e", cx: 0, cy: 610, cw: 320, ch: 331, area: { l: 50, t: 659, r: 298, b: 886 },
    xTicks: tauTicks1000, xLabels: tauLabels1000, yTicks: amp4Ticks, yLabels: amp4Labels, xMinor: 4, yMinor: 5,
    datasets: [ln(ePlunging, RED_FAINT, 0.8), ln(ePitching, GREEN, 1.8)],
  },
  {
    id: "f", cx: 320, cy: 610, cw: 321, ch: 331, area: { l: 383, t: 659, r: 632, b: 886 },
    xTicks: amp4Ticks, xLabels: amp4Labels, yTicks: rate15Ticks, yLabels: rate15Labels, xMinor: 5, yMinor: 5,
    datasets: [ln(fPlunging, RED, 2, { tension: 0.3 }), ln(fPitching, GREEN, 3, { tension: 0.3 })],
  },
];

function buildConfig(s: Spec): any {
  const n = s.datasets.length;
  return {
    type: "scatter",
    data: {
      datasets: s.datasets.map((d, i) => ({
        pointRadius: 0,
        pointHoverRadius: 0,
        showLine: true,
        tension: 0,
        fill: false,
        ...d,
        order: n - i,
      })),
    },
    options: {
      animation: false,
      responsive: false,
      maintainAspectRatio: false,
      devicePixelRatio: 1,
      events: [],
      layout: {
        padding: { left: 0, right: s.cx + s.cw - s.area.r, top: s.area.t - s.cy, bottom: 0 },
      },
      plugins: {
        legend: { display: false },
        tooltip: { enabled: false },
        inAxes: { xMinor: s.xMinor, yMinor: s.yMinor },
      },
      scales: {
        x: axisOpts(s.xTicks, s.xLabels, "x", s.cy + s.ch - s.area.b),
        y: axisOpts(s.yTicks, s.yLabels, "y", s.area.l - s.cx),
      },
    },
    plugins: [axesPlugin],
  };
}

function ChartPanel({ spec }: { spec: Spec }) {
  const ref = useRef<HTMLCanvasElement>(null);
  useEffect(() => {
    const chart = new Chart(ref.current as HTMLCanvasElement, buildConfig(spec));
    return () => chart.destroy();
  }, [spec]);
  return (
    <canvas
      ref={ref}
      width={spec.cw}
      height={spec.ch}
      style={{ position: "absolute", left: spec.cx, top: spec.cy, width: spec.cw, height: spec.ch }}
    />
  );
}

function LegendBox({ x, y, dashed }: { x: number; y: number; dashed?: boolean }) {
  const row = (label: string, color: string, ry: number, dash?: boolean) => (
    <>
      <div
        style={{
          position: "absolute", left: 8, top: ry - 2, width: 40, height: 2,
          background: dash ? `repeating-linear-gradient(90deg, ${color} 0 4px, transparent 4px 5px)` : color,
        }}
      />
      <div
        style={{
          position: "absolute", left: 55, top: ry - 6, height: 10, lineHeight: "10px",
          fontFamily: TICK_FONT, fontWeight: 700, fontSize: 8.5, color: "#151515", whiteSpace: "nowrap",
        }}
      >
        {label}
      </div>
    </>
  );
  return (
    <div
      style={{
        position: "absolute", left: x, top: y, width: 100, height: 39, boxSizing: "border-box",
        border: "1px solid #3a3a3a", background: "#fff",
      }}
    >
      {row("Plunging", RED, 16, dashed)}
      {row("Pitching", GREEN, 27)}
    </div>
  );
}

function Txt({ x, y, size, rotate, bold, children }: any) {
  return (
    <div
      style={{
        position: "absolute", left: x, top: y,
        transform: `translate(-50%, -50%)${rotate ? " rotate(-90deg)" : ""}`,
        whiteSpace: "nowrap", fontFamily: SERIF, fontSize: size, lineHeight: 1, color: "#111",
        fontWeight: bold ? 700 : 400,
      }}
    >
      {children}
    </div>
  );
}

const AlphaTitle = () => (
  <>
    <span>α</span> <b>or</b>{"\u00a0 "}<b><i>h/b</i></b>
  </>
);
const AlphaRateTitle = () => (
  <>
    <span>α’</span> <b>or</b>{"\u00a0 "}<b><i>h/b’</i></b>
  </>
);

export default function App() {
  return (
    <div
      style={{
        position: "fixed", left: 0, top: 0, width: 641, height: 941, background: "#fff", overflow: "hidden",
      }}
    >
      {panels.map((p) => (
        <ChartPanel key={p.id} spec={p} />
      ))}

      <LegendBox x={171} y={1} />
      <LegendBox x={483} y={13} dashed />
      <LegendBox x={171} y={315} />
      <LegendBox x={504} y={315} />
      <LegendBox x={171} y={638} />
      <LegendBox x={504} y={638} />

      {/* left column */}
      <Txt x={8} y={130} size={13.5} rotate><AlphaTitle /></Txt>
      <Txt x={8} y={450} size={13.5} rotate><AlphaTitle /></Txt>
      <Txt x={8} y={772} size={13.5} rotate><AlphaTitle /></Txt>
      <Txt x={174} y={272} size={16} bold>τ</Txt>
      <Txt x={174} y={590} size={16} bold>τ</Txt>
      <Txt x={174} y={915} size={16} bold>τ</Txt>
      <Txt x={169} y={290} size={16} bold><span style={{ letterSpacing: 1.5 }}>(a)</span></Txt>
      <Txt x={169} y={610} size={16} bold><span style={{ letterSpacing: 1.5 }}>(c)</span></Txt>
      <Txt x={169} y={933} size={16} bold><span style={{ letterSpacing: 1.5 }}>(e)</span></Txt>

      {/* right column */}
      <Txt x={335} y={130} size={13.5} rotate><AlphaRateTitle /></Txt>
      <Txt x={335} y={450} size={13.5} rotate><AlphaRateTitle /></Txt>
      <Txt x={335} y={772} size={13.5} rotate><AlphaRateTitle /></Txt>
      <Txt x={502} y={270} size={14}><AlphaTitle /></Txt>
      <Txt x={502} y={589} size={14}><AlphaTitle /></Txt>
      <Txt x={502} y={913} size={14}><AlphaTitle /></Txt>
      <Txt x={502} y={290} size={16} bold><span style={{ letterSpacing: 1.5 }}>(b)</span></Txt>
      <Txt x={502} y={608} size={16} bold><span style={{ letterSpacing: 1.5 }}>(d)</span></Txt>
      <Txt x={503} y={933} size={16} bold><span style={{ letterSpacing: 1.5 }}>(f)</span></Txt>
    </div>
  );
}
